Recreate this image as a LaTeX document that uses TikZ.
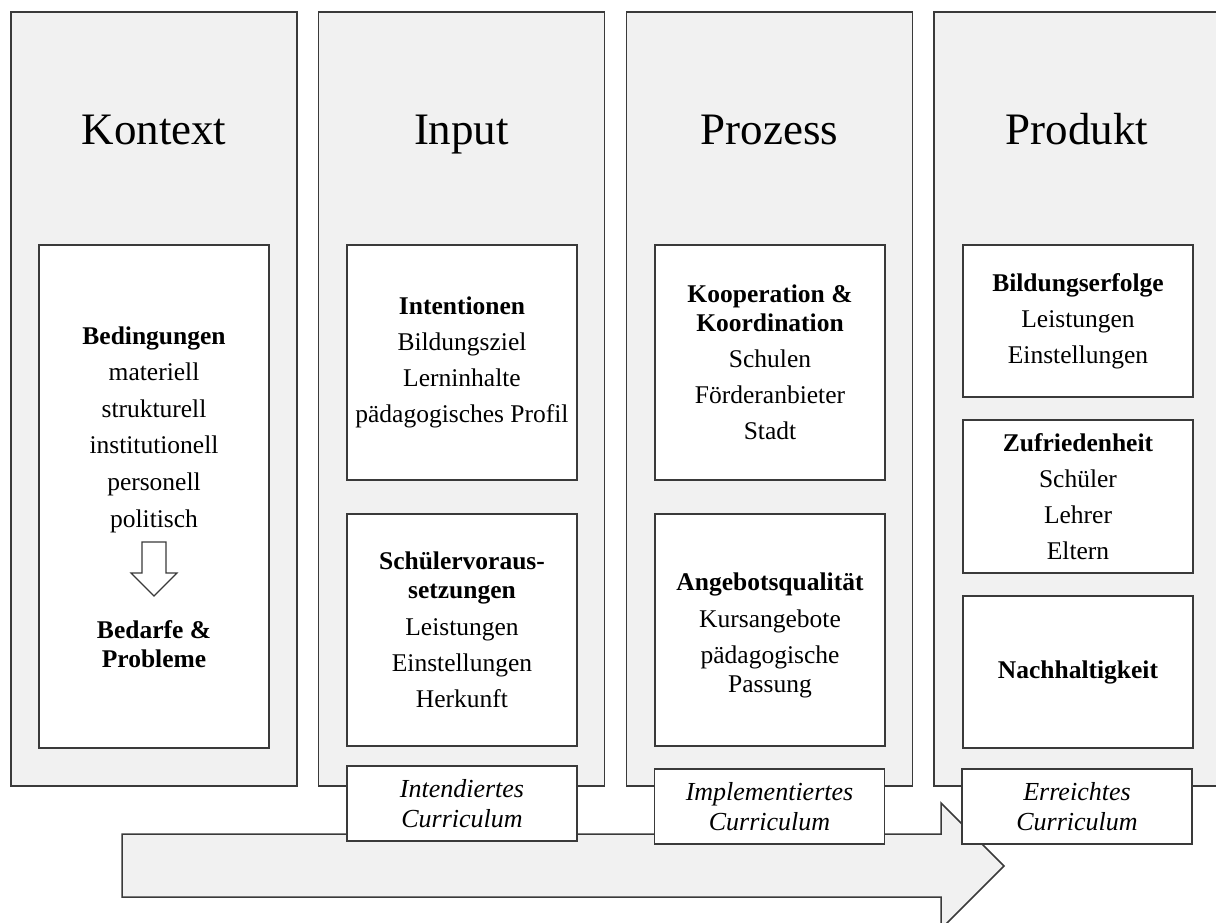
\documentclass[tikz,border=0pt]{standalone}
\usepackage{fontspec}
\setmainfont{Liberation Serif}
\definecolor{colfill}{HTML}{F1F1F1}
\definecolor{linec}{HTML}{3A3A3A}
\tikzset{
  col/.style={draw=linec, fill=colfill, line width=1.5pt, minimum width=286pt, minimum height=774pt, inner sep=0pt},
  inbox/.style={draw=linec, fill=white, line width=1.5pt, minimum width=230pt, inner sep=0pt, align=center,
     font=\fontsize{25.5}{29}\selectfont},
  curbox/.style={draw=linec, fill=white, line width=1.5pt, minimum width=230pt, minimum height=75pt, inner sep=0pt, align=center,
     font=\fontsize{26}{30}\selectfont\itshape},
  ttl/.style={font=\fontsize{45}{50}\selectfont, anchor=base, inner sep=0pt},
  txt/.style={align=center, inner sep=0pt, font=\fontsize{25.5}{29}\selectfont},
  bigarrow/.style={draw=linec, fill=colfill, line width=1.5pt, line join=miter},
}
\begin{document}
\begin{tikzpicture}[x=1pt,y=-1pt]
\useasboundingbox (0,0) rectangle (1216,922);
\clip (0,0) rectangle (1216,922);
% columns
\node[col] (ckon) at (154,399) {};
\node[col] (cinp) at (461.5,399) {};
\node[col] (cpro) at (769.5,399) {};
\node[col] (cprd) at (1077,399) {};
% titles
\node[ttl] (tkon) at (154,144) {Kontext};
\node[ttl] (tinp) at (461.5,144) {Input};
\node[ttl] (tpro) at (769.5,144) {Prozess};
\node[ttl] (tprd) at (1077,144) {Produkt};
% Kontext box
\node[inbox, minimum height=503pt] (bkon) at (154,496.5) {};
\node[txt] (kup) at (154,429.5) {\textbf{Bedingungen}\\[7.6pt]materiell\\[7.6pt]strukturell\\[7.6pt]institutionell\\[7.6pt]personell\\[7.6pt]politisch};
\node[txt] (kdown) at (154,644) {\textbf{Bedarfe \&}\\\textbf{Probleme}};
\draw[draw=linec, fill=white, line width=1.2pt, line join=miter]
  (142,542) -- (166,542) -- (166,573) -- (177,573) -- (154,596) -- (131,573) -- (142,573) -- cycle;
% Input boxes
\node[inbox, minimum height=235pt] (bint) at (462,362.5)
  {\textbf{Intentionen}\\[7pt]Bildungsziel\\[7pt]Lerninhalte\\[7pt]pädagogisches Profil};
\node[inbox, minimum height=232pt] (bsch) at (462,630)
  {\textbf{Schülervoraus-}\\\textbf{setzungen}\\[8pt]Leistungen\\[7pt]Einstellungen\\[7pt]Herkunft};
% Prozess boxes
\node[inbox, minimum height=235pt] (bkoo) at (770,362.5)
  {\textbf{Kooperation \&}\\\textbf{Koordination}\\[7pt]Schulen\\[7pt]Förderanbieter\\[7pt]Stadt};
\node[inbox, minimum height=232pt] (bang) at (770,630) {};
\node[txt] (tang) at (770,635)
  {\textbf{Angebotsqualität}\\[8pt]Kursangebote\\[7pt]pädagogische\\Passung};
% Produkt boxes
\node[inbox, minimum height=152pt] (bbil) at (1078,321)
  {\textbf{Bildungserfolge}\\[7pt]Leistungen\\[7pt]Einstellungen};
\node[inbox, minimum height=153pt] (bzuf) at (1078,496.5)
  {\textbf{Zufriedenheit}\\[7pt]Schüler\\[7pt]Lehrer\\[7pt]Eltern};
\node[inbox, minimum height=152pt] (bnac) at (1078,672)
  {\textbf{Nachhaltigkeit}};
% big arrow
\draw[bigarrow] (122,834) -- (941,834) -- (941,803) -- (1004,866) -- (941,929) -- (941,897) -- (122,897) -- cycle;
% curriculum boxes
\node[curbox] (cint) at (462,803.5) {Intendiertes\\Curriculum};
\node[curbox] (cimp) at (769.5,806.5) {Implementiertes\\Curriculum};
\node[curbox] (cerr) at (1077,806.5) {Erreichtes\\Curriculum};
\end{tikzpicture}
\end{document}
